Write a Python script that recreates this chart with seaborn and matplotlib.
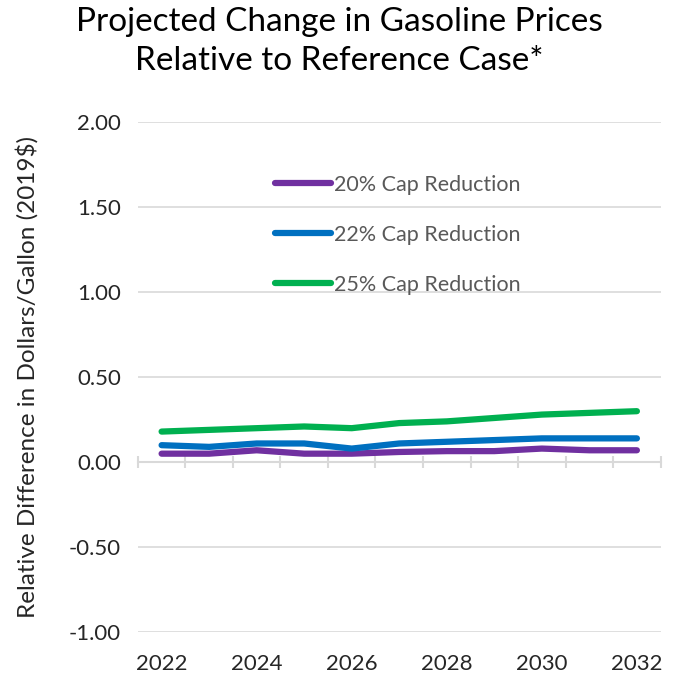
import seaborn as sns
import matplotlib.pyplot as plt
import pandas as pd

###############################################################################
### DATA
###############################################################################
years = [2022, 2023, 2024, 2025, 2026, 2027, 2028, 2029, 2030, 2031, 2032]
cap_20 = [0.05, 0.05, 0.07, 0.05, 0.05, 0.06, 0.065, 0.065, 0.08, 0.07, 0.07]
cap_22 = [0.10, 0.09, 0.11, 0.11, 0.08, 0.11, 0.12, 0.13, 0.14, 0.14, 0.14]
cap_25 = [0.18, 0.19, 0.20, 0.21, 0.20, 0.23, 0.24, 0.26, 0.28, 0.29, 0.30]
series_names = ['20% Cap Reduction', '22% Cap Reduction', '25% Cap Reduction']
series_colors = ['#7030A0', '#0070C0', '#00B050']
y_ticks = [-1.0, -0.5, 0.0, 0.5, 1.0, 1.5, 2.0]

# long-form table for seaborn, x as category position
rows = []
for name, vals in zip(series_names, [cap_20, cap_22, cap_25]):
    for i, (yr, v) in enumerate(zip(years, vals)):
        rows.append({'pos': i, 'year': yr, 'value': v, 'series': name})
df = pd.DataFrame(rows)

sns.set_theme(style='white')
plt.rcParams['font.family'] = ['Lato', 'DejaVu Sans']

fig = plt.figure(figsize=(6.79, 6.79), dpi=100)
ax = fig.add_axes([0.203, 0.069, 0.77, 0.751])

sns.lineplot(data=df, x='pos', y='value', hue='series', palette=series_colors,
             linewidth=4.5, ax=ax, legend=True, solid_capstyle='round')

ax.set_ylim(-1.0, 2.0)
ax.set_xlim(-0.5, len(years) - 0.5)
ax.set_yticks(y_ticks)
ax.set_yticklabels([f'{t:.2f}' for t in y_ticks], fontsize=16, color='#262626')
ax.yaxis.grid(True, color='#D9D9D9', linewidth=1.2)
ax.set_axisbelow(True)
ax.tick_params(axis='y', length=0, pad=12)

for s in ['left', 'right', 'top']:
    ax.spines[s].set_visible(False)

# category axis crossing at zero, ticks between categories
ax.spines['bottom'].set_position(('data', 0))
ax.spines['bottom'].set_color('#D9D9D9')
ax.spines['bottom'].set_linewidth(1.5)
ax.set_xticks([i - 0.5 for i in range(len(years) + 1)])
ax.set_xticklabels([])
ax.tick_params(axis='x', bottom=True, direction='inout', length=9, width=1.5,
               color='#D9D9D9')

# year labels sit at the bottom of the plot
sec = ax.secondary_xaxis('bottom')
sec.set_xticks(list(range(0, len(years), 2)))
sec.set_xticklabels([str(y) for y in years[::2]], fontsize=16, color='#262626')
sec.tick_params(length=0, pad=16)
sec.spines['bottom'].set_visible(False)

ax.set_xlabel('')
ax.set_ylabel('Relative Difference in Dollars/Gallon (2019$)', fontsize=17.5,
              color='#262626', labelpad=22)

leg = ax.legend(loc='upper left', bbox_to_anchor=(0.225, 0.935), frameon=False,
                fontsize=15.5, labelcolor='#595959', handlelength=2.6,
                handletextpad=0.15, labelspacing=1.4)
for line in leg.get_lines():
    line.set_linewidth(4.5)

fig.suptitle('Projected Change in Gasoline Prices\nRelative to Reference Case*',
             fontsize=24, x=0.5, y=0.99, color='black', linespacing=1.4)

plt.savefig('out.png', dpi=100)
